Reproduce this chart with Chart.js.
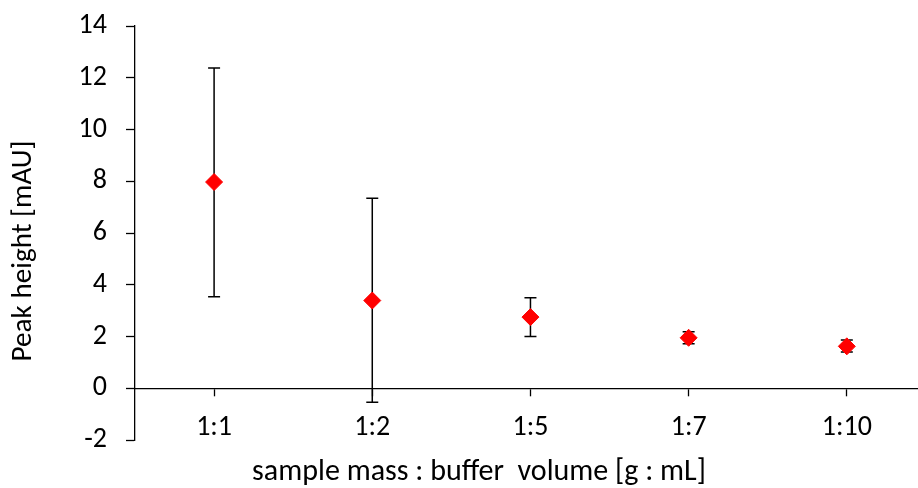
<!DOCTYPE html>
<html>
<head>
<meta charset="utf-8">
<script src="https://cdn.jsdelivr.net/npm/chart.js@4/dist/chart.umd.min.js"></script>
<style>
  html, body { margin: 0; padding: 0; background: #fff; overflow: hidden; }
  #wrap { width: 918px; height: 488px; }
</style>
</head>
<body>
<div id="wrap"><canvas id="c" width="918" height="488"></canvas></div>
<script>
// ---- data ----
const categories = ['1:1', '1:2', '1:5', '1:7', '1:10'];
const means = [7.97, 3.39, 2.75, 1.95, 1.62];
const errLow = [3.54, -0.54, 2.00, 1.72, 1.40];
const errHigh = [12.38, 7.34, 3.50, 2.18, 1.86];
const yTickValues = [-2, 0, 2, 4, 6, 8, 10, 12, 14];
const xTitle = 'sample mass : buffer  volume [g : mL]';
const yTitle = 'Peak height [mAU]';

const FONT = "Carlito, Lato, 'Liberation Sans', sans-serif";

// pick font sizes so that text widths match the reference
const mctx = document.createElement('canvas').getContext('2d');
function fitSize(text, targetWidth) {
  mctx.font = '100px ' + FONT;
  return 100 * targetWidth / mctx.measureText(text).width;
}
const tickSize = Math.round(fitSize('1:10', 50) * 10) / 10;
const xTitleSize = fitSize(xTitle, 454);
const yTitleSize = fitSize(yTitle, 221);

const errorBarPlugin = {
  id: 'errorBars',
  beforeDatasetsDraw(chart) {
    const ctx = chart.ctx;
    const xs = chart.scales.x, ys = chart.scales.y;
    ctx.save();
    ctx.strokeStyle = '#000';
    ctx.lineWidth = 1.5;
    categories.forEach((c, i) => {
      const x = xs.getPixelForValue(i + 1);
      const y1 = ys.getPixelForValue(errLow[i]);
      const y2 = ys.getPixelForValue(errHigh[i]);
      const cap = 6;
      ctx.beginPath();
      ctx.moveTo(x, y1); ctx.lineTo(x, y2);
      ctx.moveTo(x - cap, y1); ctx.lineTo(x + cap, y1);
      ctx.moveTo(x - cap, y2); ctx.lineTo(x + cap, y2);
      ctx.stroke();
    });
    ctx.restore();
  }
};

const titlesPlugin = {
  id: 'axisTitles',
  afterDraw(chart) {
    const ctx = chart.ctx;
    ctx.save();
    ctx.fillStyle = '#000';
    ctx.textAlign = 'center';
    ctx.textBaseline = 'alphabetic';
    ctx.font = xTitleSize + 'px ' + FONT;
    ctx.fillText(xTitle, 479, 480);
    ctx.font = yTitleSize + 'px ' + FONT;
    ctx.translate(31, 251);
    ctx.rotate(-Math.PI / 2);
    ctx.fillText(yTitle, 0, 0);
    ctx.restore();
  }
};

new Chart(document.getElementById('c'), {
  type: 'scatter',
  data: {
    datasets: [{
      data: means.map((v, i) => ({ x: i + 1, y: v })),
      pointStyle: 'rectRot',
      pointRadius: 8.5,
      pointHoverRadius: 8.5,
      backgroundColor: '#ff0000',
      borderColor: '#ff0000',
      borderWidth: 1,
      showLine: false,
      clip: false
    }]
  },
  options: {
    responsive: false,
    animation: false,
    events: [],
    layout: { autoPadding: false, padding: { top: 26, right: 0, bottom: 48, left: 0 } },
    plugins: { legend: { display: false }, tooltip: { enabled: false } },
    scales: {
      x: {
        type: 'linear',
        position: { y: 0 },
        min: 0.5,
        max: 5.45,
        afterFit(scale) { scale.paddingLeft = 0; scale.paddingRight = 0; },
        afterBuildTicks(scale) { scale.ticks = categories.map((c, i) => ({ value: i + 1 })); },
        ticks: {
          callback: (v) => categories[v - 1],
          color: '#000',
          font: { family: FONT, size: tickSize },
          padding: 16,
          maxRotation: 0,
          autoSkip: false
        },
        grid: { drawOnChartArea: false, drawTicks: true, tickLength: 7, tickWidth: 1.3, tickColor: '#000' },
        border: { display: true, color: '#000', width: 1.3 }
      },
      y: {
        min: -2,
        max: 14,
        afterFit(scale) { scale.width = 135; scale.paddingTop = 0; scale.paddingBottom = 0; },
        afterBuildTicks(scale) { scale.ticks = yTickValues.map(v => ({ value: v })); },
        ticks: {
          color: '#000',
          font: { family: FONT, size: tickSize },
          padding: 19
        },
        grid: { drawOnChartArea: false, drawTicks: true, tickLength: 9, tickWidth: 1.3, tickColor: '#000' },
        border: { display: true, color: '#000', width: 1.3 }
      }
    }
  },
  plugins: [errorBarPlugin, titlesPlugin]
});
</script>
</body>
</html>
